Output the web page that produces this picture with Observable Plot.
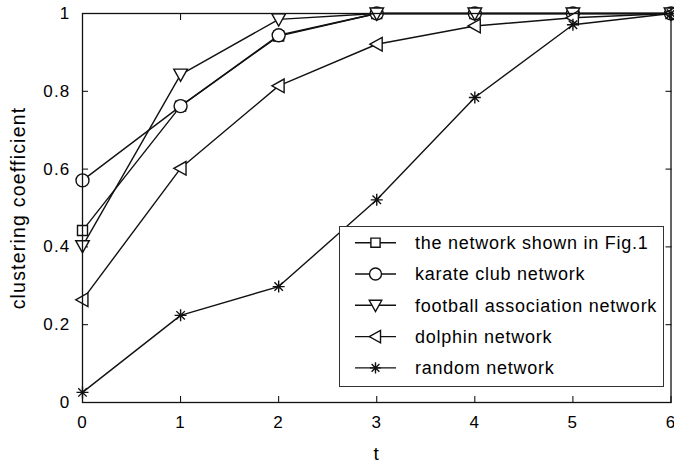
<!DOCTYPE html>
<html>
<head>
<meta charset="utf-8">
<script src="https://cdn.jsdelivr.net/npm/d3@7"></script>
<script src="https://cdn.jsdelivr.net/npm/@observablehq/plot@0.6"></script>
<style>
  html, body { margin: 0; padding: 0; background: #fff; }
  #chart { position: relative; width: 674px; height: 464px; overflow: hidden; }
  #legend { position: absolute; left: 0; top: 0; }
</style>
</head>
<body>
<div id="chart"></div>
<script>
// Clustering coefficient after t steps, for five networks
const t = [0, 1, 2, 3, 4, 5, 6];
const seriesNames = [
  "the network shown in Fig.1",
  "karate club network",
  "football association network",
  "dolphin network",
  "random network"
];
const fig1Values     = [0.442, 0.762, 0.942, 1, 1, 1, 1];
const karateValues   = [0.571, 0.762, 0.944, 1, 1, 1, 1];
const footballValues = [0.402, 0.843, 0.985, 1, 1, 1, 1];
const dolphinValues  = [0.264, 0.602, 0.814, 0.921, 0.968, 0.989, 1];
const randomValues   = [0.026, 0.224, 0.298, 0.521, 0.784, 0.971, 1];

const xTicks = [0, 1, 2, 3, 4, 5, 6];
const xTickLabels = ["0", "1", "2", "3", "4", "5", "6"];
const yTicks = [0, 0.2, 0.4, 0.6, 0.8, 1];
const yTickLabels = ["0", "0.2", "0.4", "0.6", "0.8", "1"];
const xLabel = "t";
const yLabel = "clustering coefficient";

// Marker shapes (size is the symbol area, as d3.symbol passes it)
const rad = size => Math.sqrt(size / Math.PI);
const squareMarker = {draw(c, size) { const r = rad(size); c.rect(-r, -r, 2 * r, 2 * r); }};
const circleMarker = {draw(c, size) { const r = rad(size); c.moveTo(r, 0); c.arc(0, 0, r, 0, 2 * Math.PI); }};
const triDownMarker = {draw(c, size) {
  const r = rad(size);
  c.moveTo(-r, -0.8 * r); c.lineTo(r, -0.8 * r); c.lineTo(0, r); c.closePath();
}};
const triLeftMarker = {draw(c, size) {
  const r = rad(size);
  c.moveTo(-r, 0); c.lineTo(0.8 * r, -r); c.lineTo(0.8 * r, r); c.closePath();
}};
const starMarker = {draw(c, size) {
  const r = rad(size), d = r * Math.SQRT1_2;
  c.moveTo(-r, 0); c.lineTo(r, 0);
  c.moveTo(0, -r); c.lineTo(0, r);
  c.moveTo(-d, -d); c.lineTo(d, d);
  c.moveTo(-d, d); c.lineTo(d, -d);
}};

const series = [
  {name: seriesNames[0], values: fig1Values,     symbol: squareMarker,  r: 5},
  {name: seriesNames[1], values: karateValues,   symbol: circleMarker,  r: 6.5},
  {name: seriesNames[2], values: footballValues, symbol: triDownMarker, r: 6.8},
  {name: seriesNames[3], values: dolphinValues,  symbol: triLeftMarker, r: 6.8},
  {name: seriesNames[4], values: randomValues,   symbol: starMarker,    r: 6}
];

const rows = s => t.map((x, i) => ({t: x, value: s.values[i], name: s.name}));

const font = "'Liberation Sans', Arial, Helvetica, sans-serif";
const ink = "#111";

const seriesMarks = series.flatMap(s => [
  Plot.line(rows(s), {x: "t", y: "value", stroke: ink, strokeWidth: 1.4}),
  Plot.dot(rows(s), {x: "t", y: "value", symbol: s.symbol, r: s.r, fill: "white", stroke: ink, strokeWidth: 1.4})
]);

const noText = () => "";
const tickLen = 6;

const chart = Plot.plot({
  width: 674,
  height: 464,
  marginLeft: 82,
  marginRight: 3.5,
  marginTop: 13,
  marginBottom: 62,
  style: {fontFamily: font, fontSize: "17px", letterSpacing: "1.2px", color: "black", background: "white", overflow: "visible"},
  x: {domain: [0, 6], label: null},
  y: {domain: [0, 1], label: null},
  marks: [
    // tick labels
    Plot.axisX({ticks: xTicks, tickSize: 0, tickPadding: 13, label: null,
                tickFormat: d => xTickLabels[xTicks.indexOf(d)]}),
    Plot.axisY({ticks: yTicks, tickSize: 0, tickPadding: 12, label: null,
                tickFormat: d => yTickLabels[yTicks.indexOf(d)]}),
    // inward ticks on all four sides
    Plot.axisX({ticks: xTicks, anchor: "bottom", tickSize: tickLen, dy: -tickLen, tickFormat: noText, label: null, strokeWidth: 1}),
    Plot.axisX({ticks: xTicks, anchor: "top", tickSize: tickLen, dy: tickLen, tickFormat: noText, label: null, strokeWidth: 1}),
    Plot.axisY({ticks: yTicks, anchor: "left", tickSize: tickLen, dx: tickLen, tickFormat: noText, label: null, strokeWidth: 1}),
    Plot.axisY({ticks: yTicks, anchor: "right", tickSize: tickLen, dx: -tickLen, tickFormat: noText, label: null, strokeWidth: 1}),
    // axis titles
    Plot.text([xLabel], {frameAnchor: "bottom", dy: 51, text: d => d, fontSize: 19, textAnchor: "middle", lineAnchor: "middle", letterSpacing: "1px"}),
    Plot.text([yLabel], {frameAnchor: "left", dx: -64, rotate: -90, text: d => d, fontSize: 19.5, textAnchor: "middle", lineAnchor: "middle", letterSpacing: "1.1px"}),
    ...seriesMarks,
    Plot.frame({stroke: ink, strokeWidth: 1.3})
  ]
});

const root = document.getElementById("chart");
root.appendChild(chart);

// Legend box over the lower right of the plot area
const legend = d3.select(root).append("svg")
  .attr("id", "legend")
  .attr("width", 674)
  .attr("height", 464)
  .style("font-family", font);

const box = {x: 339.5, y: 226.5, w: 324, h: 160};
legend.append("rect")
  .attr("x", box.x).attr("y", box.y).attr("width", box.w).attr("height", box.h)
  .attr("fill", "white").attr("stroke", "#333").attr("stroke-width", 1);

const rowY0 = 242.7, rowStep = 31.3;
const item = legend.selectAll("g.item").data(series).join("g")
  .attr("class", "item")
  .attr("transform", (d, i) => `translate(0,${rowY0 + i * rowStep})`);
item.append("line")
  .attr("x1", 355).attr("x2", 396).attr("y1", 0).attr("y2", 0)
  .attr("stroke", ink).attr("stroke-width", 1.4);
item.append("path")
  .attr("transform", "translate(375.5,0)")
  .attr("d", d => d3.symbol(d.symbol, Math.PI * d.r * d.r * 0.85)())
  .attr("fill", "white").attr("stroke", ink).attr("stroke-width", 1.4);
item.append("text")
  .attr("x", 415).attr("y", 0).attr("dy", "0.35em")
  .attr("font-size", 18).attr("letter-spacing", "0.75px")
  .attr("fill", "black")
  .text(d => d.name);
</script>
</body>
</html>
